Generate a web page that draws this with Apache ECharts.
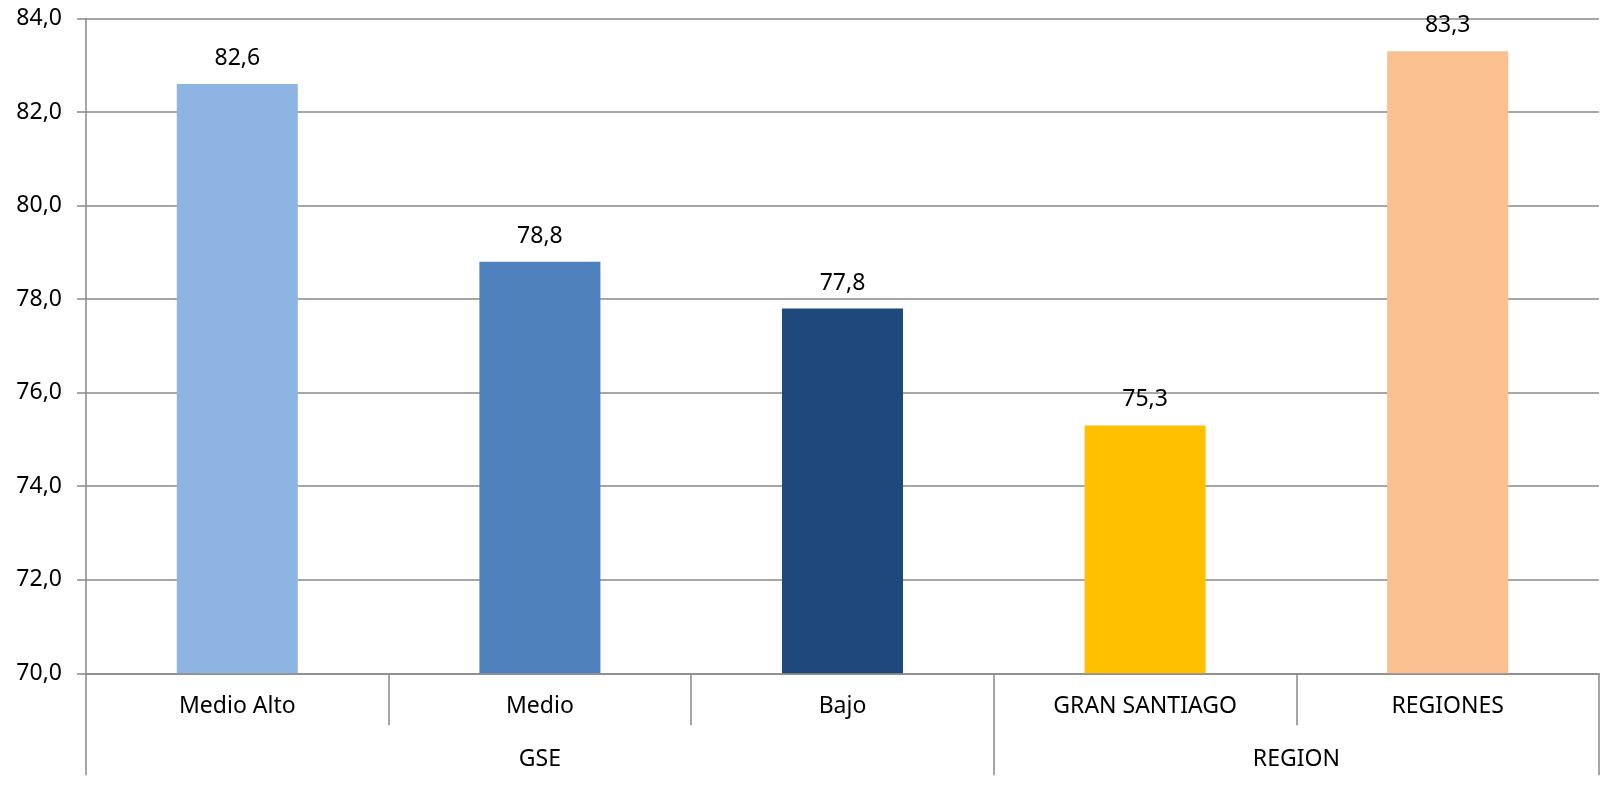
<!DOCTYPE html>
<html>
<head>
<meta charset="utf-8">
<script src="https://cdn.jsdelivr.net/npm/echarts@6/dist/echarts.min.js"></script>
<style>
  html, body { margin: 0; padding: 0; background: #fff; }
  #chart { width: 1600px; height: 785px; }
</style>
</head>
<body>
<div id="chart"></div>
<script>
// categorias y valores
var categories = ['Medio Alto', 'Medio', 'Bajo', 'GRAN SANTIAGO', 'REGIONES'];
var values = [82.6, 78.8, 77.8, 75.3, 83.3];
var barColors = ['#8EB4E3', '#4F81BD', '#1F497D', '#FFC000', '#FAC090'];
// grupos (cantidad de categorias en cada uno)
var groups = ['GSE', 'REGION'];
var groupSizes = [3, 2];

var yTicks = [70, 72, 74, 76, 78, 80, 82, 84];

// limites y centros de los grupos, en unidades de categoria
var groupEdges = [0];
var groupCenters = [];
groupSizes.forEach(function (n) {
  var start = groupEdges[groupEdges.length - 1];
  groupCenters.push(start + n / 2);
  groupEdges.push(start + n);
});

function fmt(v) {
  return v.toFixed(1).replace('.', ',');
}

var FONT = 'Noto Sans';
var GRAY = '#898989';

var chart = echarts.init(document.getElementById('chart'));
chart.setOption({
  animation: false,
  grid: { left: 86, right: 1, top: 18.5, bottom: 111.7, containLabel: false },
  xAxis: [{
    type: 'category',
    data: categories,
    position: 'bottom',
    axisLine: { show: true, lineStyle: { color: GRAY, width: 1.5 } },
    axisTick: { show: true, interval: 0, length: 52, lineStyle: { color: GRAY, width: 1.5 } },
    axisLabel: { interval: 0, margin: 22, color: '#000', fontFamily: FONT, fontSize: 23 }
  }, {
    type: 'value',
    min: 0,
    max: categories.length,
    position: 'bottom',
    splitLine: { show: false },
    axisLine: { show: false },
    axisTick: { show: true, customValues: groupEdges, length: 102, lineStyle: { color: GRAY, width: 1.5 } },
    axisLabel: {
      customValues: groupCenters,
      margin: 75,
      color: '#000', fontFamily: FONT, fontSize: 23,
      formatter: function (v) {
        return groups[groupCenters.indexOf(v)];
      }
    }
  }],
  yAxis: {
    type: 'value',
    min: yTicks[0],
    max: yTicks[yTicks.length - 1],
    interval: 2,
    axisLine: { show: true, lineStyle: { color: GRAY, width: 1.5 } },
    axisTick: { show: true, length: 9, lineStyle: { color: GRAY, width: 1.5 } },
    splitLine: { show: true, lineStyle: { color: GRAY, width: 1.5 } },
    axisLabel: { margin: 24, color: '#000', fontFamily: FONT, fontSize: 23, formatter: fmt }
  },
  series: [{
    type: 'bar',
    xAxisIndex: 0,
    barWidth: '40%',
    data: values.map(function (v, i) {
      return { value: v, itemStyle: { color: barColors[i] } };
    }),
    label: {
      show: true,
      position: 'top',
      distance: 14,
      color: '#000',
      fontFamily: FONT,
      fontSize: 23,
      formatter: function (p) { return fmt(p.value); }
    }
  }]
});
</script>
</body>
</html>
